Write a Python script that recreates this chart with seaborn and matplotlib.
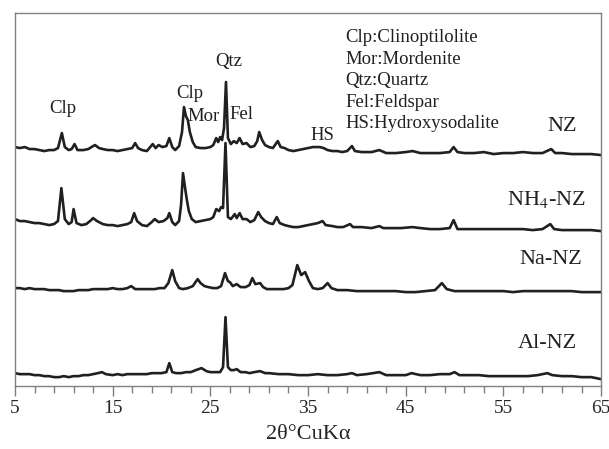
"""XRD patterns of natural zeolite (NZ) and its modified forms."""

import matplotlib

matplotlib.use("Agg")

import matplotlib.pyplot as plt
import numpy as np
import pandas as pd
import seaborn as sns
from matplotlib.ticker import FixedLocator


# 2theta (deg) and intensity above each trace's own baseline (arbitrary units)
NZ_2THETA = [5.0, 5.5, 6.0, 6.5, 7.0, 7.5, 8.0, 8.5, 9.0, 9.4, 9.8, 10.1, 10.5, 10.8, 11.1, 11.4,
             12.0, 12.5, 13.0, 13.2, 13.6, 14.0, 14.5, 15.0, 15.5, 16.0, 16.5, 17.0, 17.3, 17.6,
             18.0, 18.5, 19.1, 19.4, 19.7, 20.1, 20.5, 20.8, 21.1, 21.4, 21.8, 22.1, 22.3, 22.5,
             22.7, 22.9, 23.2, 23.5, 24.0, 24.5, 25.0, 25.3, 25.6, 25.8, 26.0, 26.2, 26.4, 26.6,
             26.8, 27.1, 27.4, 27.7, 28.0, 28.3, 28.7, 29.1, 29.5, 29.8, 30.0, 30.3, 30.6, 31.0,
             31.4, 31.9, 32.2, 32.6, 33.0, 33.5, 34.0, 34.5, 35.0, 35.5, 36.2, 36.6, 37.0, 37.5,
             38.0, 38.5, 39.0, 39.5, 39.8, 40.5, 41.5, 42.3, 43.0, 44.0, 45.0, 45.7, 46.5, 47.5,
             48.5, 49.5, 49.9, 50.3, 51.0, 52.0, 53.0, 54.0, 55.0, 56.0, 57.0, 58.0, 59.0, 59.9,
             60.3, 61.0, 62.0, 63.0, 64.0, 65.0]
NZ_INT = [3, 2, 3, 1, 1, 0, -1, 0, 0, 2, 17, 3, 0, 1, 6, 0,
          0, 1, 4, 5, 2, 1, 0, 0, -1, 0, 1, 2, 7, 2,
          0, -1, 6, 2, 5, 3, 4, 12, 3, 0, 4, 18, 43, 34,
          30, 18, 8, 3, 2, 2, 3, 5, 12, 8, 13, 10, 22, 68,
          12, 6, 9, 7, 12, 6, 7, 3, 4, 9, 18, 10, 5, 3,
          2, 9, 3, 2, 0, -1, 0, 1, 2, 3, 3, 2, 0, -1,
          -1, -2, -1, 4, -1, -2, -2, 0, -3, -3, -2, -1, -3, -3,
          -3, -2, 3, -2, -3, -3, -2, -4, -3, -3, -2, -3, -3, 1,
          -3, -3, -4, -4, -4, -5]

NH4_2THETA = [5.0, 5.5, 6.0, 6.5, 7.0, 7.5, 8.0, 8.5, 9.0, 9.4, 9.75, 10.1, 10.5, 10.8, 11.0, 11.3,
              11.8, 12.3, 12.8, 13.0, 13.4, 14.0, 14.5, 15.0, 15.5, 16.0, 16.5, 16.9, 17.2, 17.5,
              18.0, 18.5, 19.0, 19.3, 19.7, 20.2, 20.6, 20.8, 21.1, 21.4, 21.8, 22.0, 22.2, 22.4,
              22.6, 22.8, 23.1, 23.5, 24.0, 24.5, 25.0, 25.3, 25.6, 25.9, 26.1, 26.3, 26.55, 26.8,
              27.1, 27.5, 27.7, 28.0, 28.3, 28.7, 29.1, 29.5, 29.9, 30.2, 30.6, 31.0, 31.4, 31.8,
              32.1, 32.6, 33.0, 33.5, 34.0, 34.5, 35.0, 35.5, 36.0, 36.5, 36.8, 37.5, 38.0, 38.6,
              39.3, 39.6, 40.5, 41.5, 42.3, 42.7, 43.5, 44.5, 45.7, 46.5, 47.5, 48.5, 49.5, 49.9,
              50.3, 51.0, 52.0, 53.0, 54.0, 55.0, 56.0, 57.0, 58.0, 59.0, 59.8, 60.2, 61.0, 62.0,
              63.0, 64.0, 65.0]
NH4_INT = [6, 4, 4, 3, 2, 2, 1, 0, 1, 4, 37, 6, 1, 3, 16, 2,
           0, 1, 5, 7, 4, 1, 0, 0, -1, 0, 1, 3, 12, 4,
           0, -1, 3, 6, 3, 4, 7, 12, 3, 0, 4, 20, 52, 38,
           25, 14, 6, 3, 4, 5, 6, 8, 16, 14, 18, 17, 82, 8,
           6, 11, 7, 12, 6, 6, 3, 5, 13, 8, 4, 2, 1, 8,
           2, 0, -1, -2, -2, -1, 0, 1, 2, 4, 0, -1, -2, -2,
           1, -2, -2, -3, -1, -3, -3, -3, -2, -3, -4, -4, -3, 5,
           -4, -4, -4, -4, -4, -4, -4, -4, -5, -4, 1, -4, -5, -5,
           -5, -5, -6]

NA_2THETA = [5.0, 5.5, 6.0, 6.5, 7.0, 7.5, 8.0, 8.5, 9.0, 9.5, 10.0, 10.5, 11.0, 11.5, 12.0, 12.5,
             13.0, 13.5, 14.0, 14.5, 15.0, 15.5, 16.0, 16.5, 16.9, 17.3, 17.8, 18.3, 18.8, 19.3,
             19.8, 20.3, 20.7, 21.1, 21.4, 21.8, 22.2, 22.7, 23.2, 23.7, 24.0, 24.4, 24.8, 25.3,
             25.7, 26.1, 26.5, 26.8, 27.0, 27.3, 27.7, 28.1, 28.6, 29.0, 29.3, 29.6, 30.1, 30.4,
             30.8, 31.5, 32.0, 32.5, 33.0, 33.4, 33.9, 34.3, 34.7, 35.1, 35.5, 36.0, 36.5, 37.0,
             37.4, 38.0, 39.0, 40.0, 41.0, 42.0, 43.0, 44.0, 45.0, 46.0, 47.0, 48.0, 48.7, 49.2,
             50.0, 51.0, 52.0, 53.0, 54.0, 55.0, 56.0, 57.0, 58.0, 59.0, 60.0, 61.0, 62.0, 63.0,
             64.0, 65.0]
NA_INT = [1, 1, 0, 1, 0, 0, 0, -1, -1, -1, -2, -2, -2, -1, -1, -1,
          0, 0, 0, 0, 1, 0, 0, 1, 3, 0, 0, 0, 0, 0,
          1, 1, 6, 19, 8, 1, 0, 1, 3, 10, 6, 3, 2, 1,
          1, 3, 16, 8, 7, 3, 5, 2, 2, 4, 11, 5, 6, 2,
          0, 0, 0, 0, 1, 4, 24, 14, 17, 8, 1, 0, 1, 6,
          1, -1, -1, -2, -2, -2, -2, -2, -3, -3, -2, -1, 6, 0,
          -2, -2, -2, -2, -2, -2, -3, -2, -2, -2, -2, -2, -2, -3,
          -3, -3]

AL_2THETA = [5.0, 5.5, 6.0, 6.5, 7.0, 7.5, 8.0, 8.5, 9.0, 9.5, 10.0, 10.5, 11.0, 11.5, 12.0, 12.5,
             13.0, 13.5, 13.9, 14.3, 15.0, 15.5, 16.0, 16.5, 17.0, 17.5, 18.0, 18.5, 19.0, 19.5,
             20.0, 20.5, 20.8, 21.1, 21.5, 22.0, 22.5, 23.0, 23.5, 24.1, 24.6, 25.0, 25.5, 26.0,
             26.3, 26.55, 26.8, 27.1, 27.4, 27.7, 28.1, 28.6, 29.0, 29.5, 30.1, 30.6, 31.0, 32.0,
             33.0, 34.0, 35.0, 36.0, 37.0, 38.0, 39.0, 39.5, 40.0, 41.0, 42.3, 43.0, 44.0, 45.0,
             45.6, 46.5, 47.5, 48.5, 49.5, 50.0, 50.5, 51.5, 52.5, 53.5, 54.5, 55.5, 56.5, 57.5,
             58.5, 59.5, 60.0, 61.0, 62.0, 63.0, 64.0, 65.0]
AL_INT = [2, 1, 1, 1, 0, 0, -1, -1, -2, -2, -1, -2, -1, -1, 0, 0,
          1, 2, 3, 1, 0, 1, 0, 1, 1, 1, 1, 1, 2, 2,
          2, 3, 12, 3, 2, 2, 3, 3, 5, 7, 4, 3, 3, 3,
          8, 58, 8, 5, 5, 6, 3, 3, 2, 3, 4, 2, 2, 1,
          1, 0, 0, 1, 0, 0, 1, 2, 0, 1, 3, 0, 0, 0,
          2, 0, 0, 1, 1, 3, 0, 0, 0, -1, -1, -1, -1, -1,
          0, 2, 0, -1, -1, -2, -2, -4]

SAMPLES = ["NZ", "NH4-NZ", "Na-NZ", "Al-NZ"]
SAMPLE_LABELS = ["NZ", "NH$_4$-NZ", "Na-NZ", "Al-NZ"]
OFFSETS = [236, 161, 97, 11]

X_TICKS = [5, 15, 25, 35, 45, 55, 65]
LEGEND_LINES = ["Clp:Clinoptilolite", "Mor:Mordenite", "Qtz:Quartz",
                "Fel:Feldspar", "HS:Hydroxysodalite"]

LINE_COLOR = "#231f20"
SPINE_COLOR = "#808080"


def build_frame() -> pd.DataFrame:
    """Stack the four patterns into one long table with vertical offsets."""
    series = [(NZ_2THETA, NZ_INT), (NH4_2THETA, NH4_INT),
              (NA_2THETA, NA_INT), (AL_2THETA, AL_INT)]
    parts = []
    for name, offset, (tt, inten) in zip(SAMPLES, OFFSETS, series):
        parts.append(pd.DataFrame({
            "sample": name,
            "two_theta": tt,
            "intensity": np.asarray(inten, dtype=float) + offset,
        }))
    return pd.concat(parts, ignore_index=True)


def main() -> None:
    sns.set_theme(style="white")
    plt.rcParams["font.family"] = ["Liberation Serif", "DejaVu Serif"]
    plt.rcParams["mathtext.fontset"] = "stix"

    df = build_frame()

    fig = plt.figure(figsize=(6.09, 4.49), dpi=100)
    ax = fig.add_axes([0.0246, 0.140, 0.9624, 0.831])

    sns.lineplot(data=df, x="two_theta", y="intensity", units="sample",
                 estimator=None, sort=False, color=LINE_COLOR, linewidth=1.9, ax=ax)

    ax.set_xlim(5, 65)
    ax.set_ylim(0, 373)
    ax.set_yticks([])
    ax.set_ylabel("")
    ax.set_xticks(X_TICKS)
    ax.xaxis.set_minor_locator(FixedLocator(np.arange(5, 66, 2)))
    ax.tick_params(axis="x", which="major", direction="out", length=7, width=1,
                   color=SPINE_COLOR, labelsize=14, pad=3, bottom=True)
    ax.tick_params(axis="x", which="minor", direction="out", length=5, width=1,
                   color=SPINE_COLOR, bottom=True)
    for spine in ax.spines.values():
        spine.set_color(SPINE_COLOR)
        spine.set_linewidth(1.0)
    ax.set_xlabel("2θ°CuKα", fontsize=16, labelpad=6)

    # peak assignments
    peak_kw = dict(fontsize=13.5, color=LINE_COLOR, va="baseline")
    ax.text(9.9, 273, "Clp", ha="center", **peak_kw)
    ax.text(22.86, 288, "Clp", ha="center", **peak_kw)
    ax.text(22.7, 265, "Mor", ha="left", **peak_kw)
    ax.text(26.85, 320, "Qtz", ha="center", **peak_kw)
    ax.text(27.0, 267, "Fel", ha="left", **peak_kw)
    ax.text(35.2, 246, "HS", ha="left", **peak_kw)

    for i, line in enumerate(LEGEND_LINES):
        ax.text(38.8, 344 - i * 21.5, line, ha="left", **peak_kw)

    label_pos = [(62.5, 255), (63.45, 181), (63.1, 122), (62.5, 38)]
    for text, (lx, ly) in zip(SAMPLE_LABELS, label_pos):
        ax.text(lx, ly, text, ha="right", va="baseline", fontsize=16, color=LINE_COLOR)

    fig.savefig("out.png", dpi=100)
    plt.close(fig)


if __name__ == "__main__":
    main()
